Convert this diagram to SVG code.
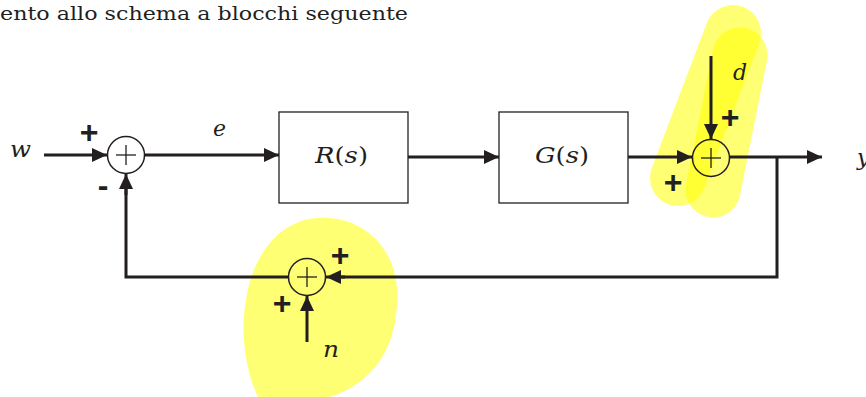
<svg xmlns="http://www.w3.org/2000/svg" width="866" height="397" viewBox="0 0 866 397">
<defs>
<marker id="ah" markerWidth="15" markerHeight="14" refX="15" refY="7" orient="auto" markerUnits="userSpaceOnUse" viewBox="0 0 15 14"><path d="M0,0 L15,7 L0,14 Z" fill="#231f20"/></marker>
<style>
.hl{fill:none;stroke:#ffff00;stroke-opacity:0.55;stroke-linecap:round}
.hf{fill:#ffff00;fill-opacity:0.55;stroke:none}
.ln{stroke:#231f20;stroke-width:3;fill:none}
.ar{stroke:#231f20;stroke-width:3;fill:none}
.sum{fill:none;stroke:#231f20;stroke-width:1.5}
.box{fill:#fff;stroke:#231f20;stroke-width:1.3}
.m{font-family:"DejaVu Serif","Liberation Serif",serif;font-style:italic;font-size:22px;fill:#231f20}
.t{font-family:"DejaVu Serif","Liberation Serif",serif;font-size:19px;fill:#231f20}
.s{font-family:"Liberation Sans",sans-serif;font-weight:bold;font-size:32px;fill:#231f20}
.p{stroke:#231f20;stroke-width:1.3}
</style>
</defs>
<rect width="866" height="397" fill="#fff"/>
<text class="t" x="0" y="20" textLength="408" lengthAdjust="spacingAndGlyphs">ento allo schema a blocchi seguente</text>
<g id="highlights">
<path class="hf" d="M318,218 C360,215 395,245 397,290 C399,340 380,380 330,397 L258,397 C245,370 240,330 246,300 C252,255 280,220 318,218 Z"/>
<line class="hl" x1="733" y1="33" x2="678" y2="178" stroke-width="56"/>
<line class="hl" x1="740" y1="55" x2="713" y2="190" stroke-width="55"/>
</g>
<g id="connectors">
<line class="ar" x1="44" y1="155" x2="107" y2="155" marker-end="url(#ah)"/>
<line class="ar" x1="145" y1="155" x2="279" y2="155" marker-end="url(#ah)"/>
<line class="ar" x1="408" y1="157" x2="499" y2="157" marker-end="url(#ah)"/>
<line class="ar" x1="628" y1="157" x2="692" y2="157" marker-end="url(#ah)"/>
<line class="ar" x1="711" y1="56" x2="711" y2="139" marker-end="url(#ah)"/>
<line class="ar" x1="730" y1="157" x2="822" y2="157" marker-end="url(#ah)"/>
<polyline class="ln" points="777,157 777,277 335,277"/>
<line class="ar" x1="345" y1="277" x2="326" y2="277" marker-end="url(#ah)"/>
<polyline class="ln" points="288,277 126,277 126,186"/>
<line class="ar" x1="126" y1="195" x2="126" y2="174" marker-end="url(#ah)"/>
<line class="ar" x1="307" y1="342" x2="307" y2="296" marker-end="url(#ah)"/>
</g>
<g id="sum1">
<circle class="sum" cx="126" cy="155" r="18.5"/>
<line class="p" x1="116" y1="155" x2="136" y2="155"/><line class="p" x1="126" y1="145" x2="126" y2="165"/>
</g>
<g id="R">
<rect class="box" x="279" y="112" width="129" height="91"/>
<text class="m" x="315" y="163" textLength="53" lengthAdjust="spacingAndGlyphs">R<tspan font-style="normal">(</tspan>s<tspan font-style="normal">)</tspan></text>
</g>
<g id="G">
<rect class="box" x="499" y="112" width="129" height="91"/>
<text class="m" x="535" y="163" textLength="54" lengthAdjust="spacingAndGlyphs">G<tspan font-style="normal">(</tspan>s<tspan font-style="normal">)</tspan></text>
</g>
<g id="sum2">
<circle class="sum" cx="711" cy="158" r="18.5"/>
<line class="p" x1="701" y1="158" x2="721" y2="158"/><line class="p" x1="711" y1="148" x2="711" y2="168"/>
</g>
<g id="sum3">
<circle class="sum" cx="307" cy="277" r="18.5"/>
<line class="p" x1="297" y1="277" x2="317" y2="277"/><line class="p" x1="307" y1="267" x2="307" y2="287"/>
</g>
<g id="labels">
<text class="m" x="10" y="157" textLength="21" lengthAdjust="spacingAndGlyphs">w</text>
<text class="m" x="213" y="136">e</text>
<text class="m" x="733" y="80">d</text>
<text class="m" x="857" y="165">y</text>
<text class="m" x="323" y="357" textLength="16" lengthAdjust="spacingAndGlyphs">n</text>
<text class="s" x="89" y="143" text-anchor="middle">+</text>
<text class="s" x="103" y="196" text-anchor="middle">-</text>
<text class="s" x="730" y="128" text-anchor="middle">+</text>
<text class="s" x="673" y="193" text-anchor="middle">+</text>
<text class="s" x="340" y="266" text-anchor="middle">+</text>
<text class="s" x="282" y="314" text-anchor="middle">+</text>
</g>
</svg>
